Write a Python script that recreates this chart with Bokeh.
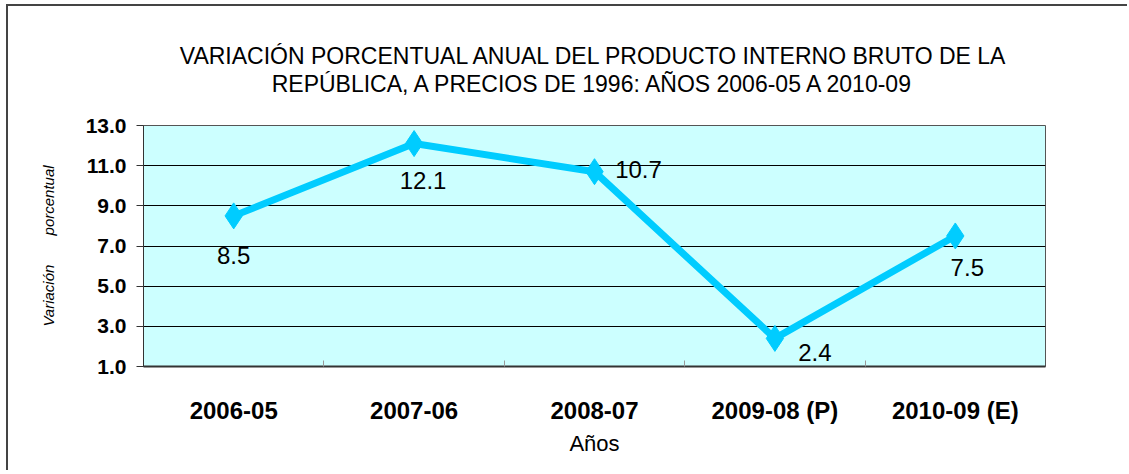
from bokeh.plotting import figure
from bokeh.models import ColumnDataSource, FixedTicker, NumeralTickFormatter, Range1d, LinearAxis
from bokeh.core.properties import value
from bokeh.embed import file_html
from bokeh.resources import INLINE

# data
categories = ["2006-05", "2007-06", "2008-07", "2009-08 (P)", "2010-09 (E)"]
values = [8.5, 12.1, 10.7, 2.4, 7.5]
value_labels = ["8.5", "12.1", "10.7", "2.4", "7.5"]
y_ticks = [1, 3, 5, 7, 9, 11, 13]
title_lines = ["VARIACIÓN PORCENTUAL ANUAL DEL PRODUCTO INTERNO BRUTO DE LA",
               "REPÚBLICA, A PRECIOS DE 1996: AÑOS 2006-05 A 2010-09"]

# label placement (style)
label_dx = [0, 9, 44, 40, 12]
label_dy = [40, 37, -2, 14, 32]

FONT = "Liberation Sans"
LINE_COLOR = "#00CCFF"

xs = list(range(len(categories)))
src = ColumnDataSource(dict(x=xs, y=values, lab=value_labels, dx=label_dx, dy=label_dy))

p = figure(width=1121, height=466, output_backend="svg", toolbar_location=None,
           title=title_lines[0],
           x_range=Range1d(-0.5, len(categories) - 0.5), y_range=Range1d(1, 13),
           min_border_left=135, min_border_right=84, min_border_top=119, min_border_bottom=106)
p.styles = {"border-top": "2px solid #444444", "border-left": "2px solid #444444",
            "margin-left": "6px", "margin-top": "4px"}

p.background_fill_color = "#CCFFFF"
p.border_fill_color = "white"
p.outline_line_color = "#555555"
p.outline_line_width = 1

# title line 1
p.title.align = "center"
p.title.text_font = FONT
p.title.text_font_size = "23px"
p.title.text_font_style = "normal"
p.title.text_color = "black"
p.title.standoff = -3

# title line 2 (as label of a bare axis above the frame)
top_axis = LinearAxis(ticker=FixedTicker(ticks=[]), axis_label=title_lines[1],
                      axis_line_color=None, major_tick_line_color=None,
                      minor_tick_line_color=None, major_label_text_font_size="0px",
                      axis_label_text_font=FONT, axis_label_text_font_size="23px",
                      axis_label_text_font_style="normal", axis_label_text_color="black",
                      axis_label_standoff=29, major_label_standoff=0,
                      major_tick_out=0, major_tick_in=0)
p.add_layout(top_axis, "above")

# grid
p.xgrid.grid_line_color = None
p.ygrid.grid_line_color = "black"
p.ygrid.grid_line_width = 1
p.ygrid.ticker = FixedTicker(ticks=y_ticks)

# y axis
p.yaxis.ticker = FixedTicker(ticks=y_ticks)
p.yaxis.formatter = NumeralTickFormatter(format="0.0")
p.yaxis.major_label_text_font = FONT
p.yaxis.major_label_text_font_size = "21px"
p.yaxis.major_label_text_font_style = "bold"
p.yaxis.major_label_text_color = "black"
p.yaxis.major_tick_out = 7
p.yaxis.major_tick_in = 0
p.yaxis.major_tick_line_color = "#333333"
p.yaxis.minor_tick_line_color = None
p.yaxis.axis_line_color = "#333333"
p.yaxis.major_label_standoff = 10
p.yaxis.axis_label = "Variación" + "\u00a0" * 7 + "porcentual"
p.yaxis.axis_label_text_font = FONT
p.yaxis.axis_label_text_font_size = "15px"
p.yaxis.axis_label_text_font_style = "italic"
p.yaxis.axis_label_text_color = "black"
p.yaxis.axis_label_standoff = 26

# x axis
xaxis = p.below[0]
xaxis.ticker = FixedTicker(ticks=xs, minor_ticks=[i + 0.5 for i in xs[:-1]])
xaxis.major_label_overrides = {i: c for i, c in zip(xs, categories)}
xaxis.major_tick_line_color = None
xaxis.minor_tick_in = 6
xaxis.minor_tick_out = 0
xaxis.minor_tick_line_color = "#999999"
xaxis.axis_line_color = "#333333"
xaxis.axis_line_width = 2
xaxis.major_label_text_font = FONT
xaxis.major_label_text_font_size = "24px"
xaxis.major_label_text_font_style = "bold"
xaxis.major_label_text_color = "black"
xaxis.major_label_standoff = 24
xaxis.axis_label = "Años"
xaxis.axis_label_text_font = FONT
xaxis.axis_label_text_font_size = "22px"
xaxis.axis_label_text_font_style = "normal"
xaxis.axis_label_text_color = "black"
xaxis.axis_label_standoff = 4

# series
p.line("x", "y", source=src, line_color=LINE_COLOR, line_width=7)
p.scatter("x", "y", source=src, marker="diamond", size=26, fill_color=LINE_COLOR,
          line_color=LINE_COLOR)
p.text("x", "y", text="lab", source=src, x_offset="dx", y_offset="dy",
       text_font=value(FONT), text_font_size="24px", text_color="black",
       text_align="center", text_baseline="middle")

open("out.html", "w").write(file_html(p, INLINE))
